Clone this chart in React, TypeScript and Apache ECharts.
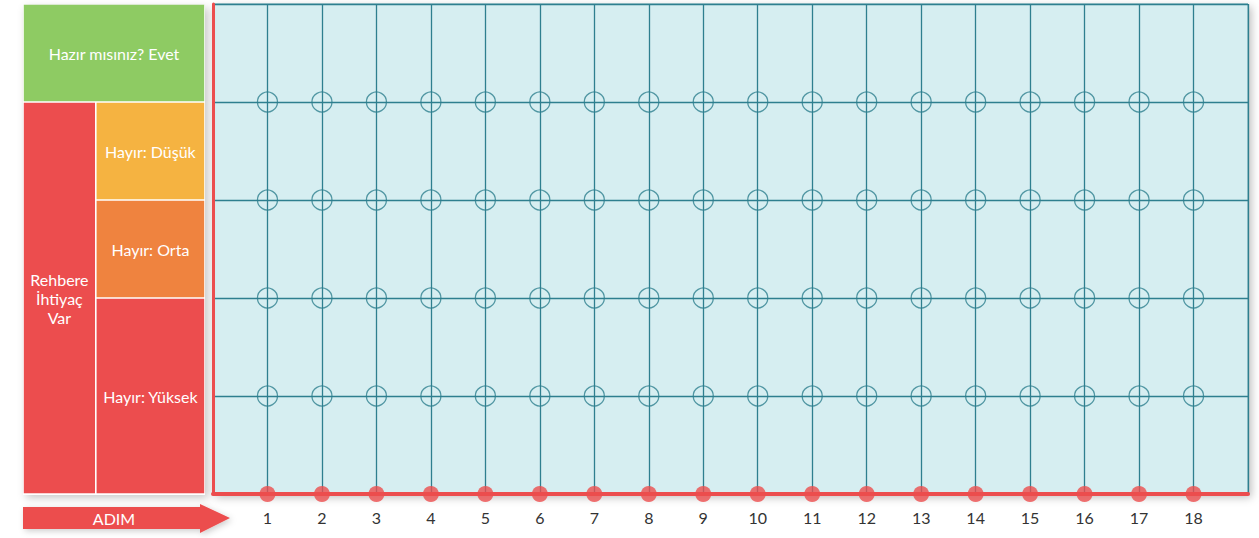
import React, { useEffect, useRef } from "react";
import * as echarts from "echarts";

// ---- data ----
const steps = [1, 2, 3, 4, 5, 6, 7, 8, 9, 10, 11, 12, 13, 14, 15, 16, 17, 18];
const levels = [1, 2, 3, 4];
const bandNames = ["Rehbere\nİhtiyaç\nVar", "Hazır mısınız? Evet", "Hayır: Düşük", "Hayır: Orta", "Hayır: Yüksek"];
const bandXFrom = [0, 0, 2, 2, 2];
const bandXTo = [2, 5, 5, 5, 5];
const bandYFrom = [0, 4, 3, 2, 0];
const bandYTo = [4, 5, 4, 3, 2];
const axisName = "ADIM";

// ---- styles ----
const bandColors = ["#ec4d4e", "#8ecb63", "#f5b341", "#ef833f", "#ec4d4e"];
const TEAL = "#2e7f8f";
const RED = "#ec4d4e";
const FONT = "Lato, 'Open Sans', sans-serif";

const W = 1259;
const H = 538;
const GRID_LEFT = 213;
const GRID_TOP = 4;
const GRID_RIGHT = 11;
const GRID_BOTTOM = 44;
const PANEL_LEFT = 23;
const PANEL_WIDTH = 182;

export default function App() {
  const ref = useRef<HTMLDivElement>(null);
  useEffect(() => {
    if (!ref.current) return;
    const chart = echarts.init(ref.current, null, { renderer: "svg" });

    const circleData: number[][] = [];
    steps.forEach((s) => levels.forEach((l) => circleData.push([s, l])));
    const dotData = steps.map((s) => [s, 0]);
    const bandData = bandNames.map((n, i) => [bandXFrom[i], bandXTo[i], bandYFrom[i], bandYTo[i], i]);

    const option: any = {
      animation: false,
      backgroundColor: "#ffffff",
      grid: [
        {
          left: GRID_LEFT,
          top: GRID_TOP,
          right: GRID_RIGHT,
          bottom: GRID_BOTTOM,
          show: true,
          backgroundColor: "#d6eef1",
          borderColor: "#5e9ea9",
          borderWidth: 1,
          shadowBlur: 8,
          shadowColor: "rgba(0,0,0,0.25)",
          shadowOffsetX: 3,
          shadowOffsetY: 3,
        },
        {
          left: PANEL_LEFT,
          width: PANEL_WIDTH,
          top: GRID_TOP,
          bottom: GRID_BOTTOM,
        },
      ],
      xAxis: [
        {
          type: "value",
          gridIndex: 0,
          min: 0,
          max: 19,
          interval: 1,
          axisLine: { show: true, onZero: false, lineStyle: { color: RED, width: 4 } },
          axisTick: { show: false },
          splitLine: { show: true, lineStyle: { color: TEAL, width: 1.3 } },
          axisLabel: {
            color: "#333",
            fontSize: 16,
            fontFamily: FONT,
            margin: 15,
            showMinLabel: true,
            showMaxLabel: true,
            formatter: (v: number) => (steps.indexOf(v) >= 0 ? String(v) : ""),
          },
        },
        { type: "value", gridIndex: 1, min: 0, max: 5, show: false },
      ],
      yAxis: [
        {
          type: "value",
          gridIndex: 0,
          min: 0,
          max: 5,
          interval: 1,
          axisLine: { show: true, onZero: false, lineStyle: { color: RED, width: 3 } },
          axisTick: { show: false },
          axisLabel: { show: false },
          splitLine: { show: true, lineStyle: { color: TEAL, width: 1.3 } },
        },
        { type: "value", gridIndex: 1, min: 0, max: 5, show: false },
      ],
      graphic: [
        {
          type: "rect",
          z: 0,
          shape: { x: PANEL_LEFT, y: GRID_TOP + 1, width: PANEL_WIDTH, height: H - GRID_TOP - GRID_BOTTOM },
          style: {
            fill: "#ffffff",
            shadowBlur: 8,
            shadowColor: "rgba(0,0,0,0.22)",
            shadowOffsetX: 3,
            shadowOffsetY: 3,
          },
        },
        {
          type: "polygon",
          z: 5,
          shape: {
            points: [
              [PANEL_LEFT, 507],
              [200, 507],
              [200, 504],
              [230, 518],
              [200, 533],
              [200, 529],
              [PANEL_LEFT, 529],
            ],
          },
          style: {
            fill: RED,
            shadowBlur: 6,
            shadowColor: "rgba(0,0,0,0.2)",
            shadowOffsetX: 2,
            shadowOffsetY: 2,
          },
        },
        {
          type: "text",
          z: 6,
          x: 114,
          y: 518,
          style: {
            text: axisName,
            fill: "#ffffff",
            font: `16px ${FONT}`,
            align: "center",
            verticalAlign: "middle",
          },
        },
      ],
      series: [
        {
          type: "custom",
          xAxisIndex: 1,
          yAxisIndex: 1,
          clip: false,
          data: bandData,
          renderItem: (params: any, api: any) => {
            const x0 = api.value(0);
            const x1 = api.value(1);
            const y0 = api.value(2);
            const y1 = api.value(3);
            const idx = api.value(4);
            const p0 = api.coord([x0, y1]);
            const p1 = api.coord([x1, y0]);
            return {
              type: "rect",
              shape: {
                x: p0[0] + 0.8,
                y: p0[1] + 0.8,
                width: p1[0] - p0[0] - 1.6,
                height: p1[1] - p0[1] - 1.6,
              },
              style: { fill: bandColors[idx] },
              textContent: {
                style: {
                  text: bandNames[idx],
                  fill: "#ffffff",
                  font: `16px ${FONT}`,
                  align: "center",
                  lineHeight: 19,
                },
              },
              textConfig: { position: "inside" },
            };
          },
        },
        {
          type: "scatter",
          xAxisIndex: 0,
          yAxisIndex: 0,
          clip: false,
          symbol: "circle",
          symbolSize: 20,
          silent: true,
          data: circleData,
          itemStyle: { color: "rgba(0,0,0,0)", borderColor: TEAL, borderWidth: 1.3 },
        },
        {
          type: "scatter",
          xAxisIndex: 0,
          yAxisIndex: 0,
          clip: false,
          symbol: "circle",
          symbolSize: 16,
          silent: true,
          z: 5,
          data: dotData,
          itemStyle: { color: RED },
        },
      ],
    };
    chart.setOption(option);
    return () => chart.dispose();
  }, []);

  return (
    <div
      ref={ref}
      style={{ position: "absolute", left: 0, top: 0, width: W, height: H }}
    />
  );
}
